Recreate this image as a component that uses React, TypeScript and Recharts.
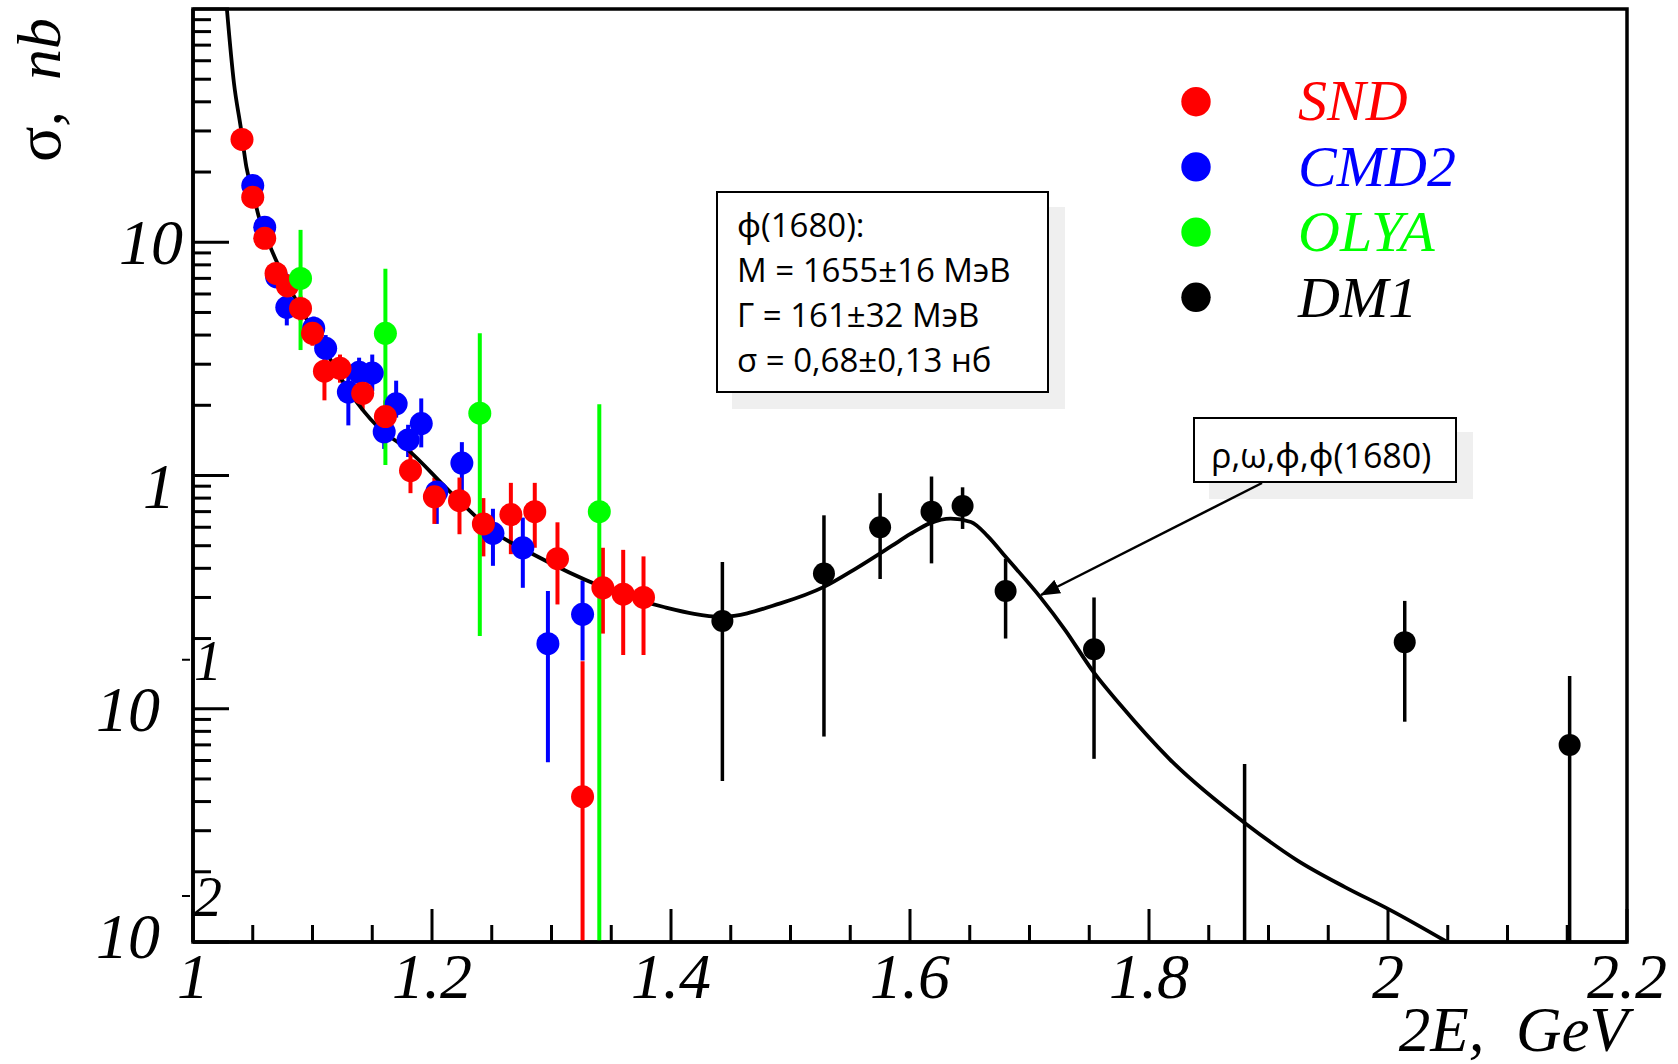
import React from 'react';
import {
  ComposedChart,
  Scatter,
  Line,
  XAxis,
  YAxis,
  ErrorBar,
  ReferenceArea,
} from 'recharts';

// each row: [2E (GeV), sigma (nb), lower end of error bar, upper end of error bar]
const sndRows: number[][] = [
  [1.041, 27.6, 25, 30.5],
  [1.05, 15.6, 14.3, 17],
  [1.06, 10.4, 9.5, 11.4],
  [1.0695, 7.35, 6.6, 8.1],
  [1.079, 6.5, 5.8, 7.3],
  [1.09, 5.2, 4.6, 5.9],
  [1.1, 4.07, 3.6, 4.6],
  [1.11, 2.8, 2.1, 3.2],
  [1.123, 2.88, 2.5, 3.3],
  [1.142, 2.25, 1.9, 2.6],
  [1.161, 1.79, 1.4, 2.1],
  [1.182, 1.05, 0.84, 1.28],
  [1.202, 0.81, 0.62, 0.98],
  [1.223, 0.78, 0.56, 0.98],
  [1.243, 0.62, 0.45, 0.8],
  [1.266, 0.68, 0.46, 0.93],
  [1.286, 0.7, 0.49, 0.93],
  [1.305, 0.44, 0.28, 0.63],
  [1.326, 0.042, 0.01, 0.16],
  [1.343, 0.33, 0.21, 0.49],
  [1.36, 0.31, 0.17, 0.48],
  [1.377, 0.3, 0.17, 0.45],
];

const cmd2Rows: number[][] = [
  [1.05, 17.5, 16, 19],
  [1.06, 11.6, 10.6, 12.7],
  [1.07, 7.1, 6.5, 7.8],
  [1.0785, 5.26, 4.4, 6.0],
  [1.101, 4.28, 3.8, 4.8],
  [1.111, 3.51, 3.1, 4.0],
  [1.13, 2.28, 1.64, 2.73],
  [1.139, 2.77, 2.4, 3.2],
  [1.15, 2.75, 2.3, 3.3],
  [1.16, 1.54, 1.3, 1.85],
  [1.17, 2.03, 1.77, 2.55],
  [1.18, 1.42, 1.2, 1.65],
  [1.191, 1.67, 1.32, 2.14],
  [1.204, 0.85, 0.62, 0.97],
  [1.225, 1.13, 0.84, 1.39],
  [1.251, 0.565, 0.41, 0.72],
  [1.276, 0.49, 0.33, 0.66],
  [1.297, 0.19, 0.059, 0.32],
  [1.326, 0.254, 0.161, 0.355],
];

const olyaRows: number[][] = [
  [1.09, 7.0, 3.45, 11.3],
  [1.161, 4.07, 1.11, 7.7],
  [1.24, 1.85, 0.205, 4.07],
  [1.34, 0.7, 0.01, 2.02],
];

// the 1.88 GeV point lies below the frame, only its bar shows
const dm1Rows: number[][] = [
  [1.443, 0.238, 0.049, 0.426],
  [1.528, 0.38, 0.076, 0.675],
  [1.575, 0.6, 0.36, 0.84],
  [1.618, 0.7, 0.42, 0.99],
  [1.644, 0.74, 0.59, 0.89],
  [1.68, 0.32, 0.2, 0.44],
  [1.754, 0.18, 0.061, 0.3],
  [1.88, 0.002, 0.01, 0.058],
  [2.014, 0.193, 0.088, 0.29],
  [2.152, 0.07, 0.01, 0.138],
];

// fit curve (rho, omega, phi, phi(1680))
const fitX = [
  1.028, 1.0343, 1.04, 1.0447, 1.05, 1.0552, 1.06, 1.0672, 1.079, 1.094, 1.109,
  1.13, 1.155, 1.179, 1.215, 1.251, 1.287, 1.34, 1.394, 1.443, 1.4915, 1.528,
  1.555, 1.585, 1.6, 1.617, 1.634, 1.651, 1.665, 1.68, 1.709, 1.73, 1.753,
  1.776, 1.817, 1.8815, 1.924, 1.964, 2.002, 2.048, 2.06,
];
const fitY = [
  105, 48, 31, 21, 16.5, 12.8, 11, 8.9, 6.65, 4.78, 3.56, 2.32, 1.61, 1.3,
  0.853, 0.577, 0.453, 0.337, 0.273, 0.248, 0.283, 0.333, 0.4, 0.5, 0.56,
  0.625, 0.653, 0.632, 0.55, 0.448, 0.301, 0.217, 0.145, 0.104, 0.061, 0.032,
  0.0224, 0.0172, 0.0137, 0.0101, 0.0093,
];

const xTicks = Array.from({ length: 25 }, (_, i) => Number((1 + i * 0.05).toFixed(2)));
const yDecades = [0.01, 0.1, 1, 10];
const yMultipliers = [1, 2, 3, 4, 5, 6, 7, 8, 9];
const yTicks = [
  ...yDecades.flatMap((d) => yMultipliers.map((m) => Number((d * m).toPrecision(3)))),
  100,
];

const legendItems = [
  { name: 'SND', color: '#ff0000' },
  { name: 'CMD2', color: '#0000ff' },
  { name: 'OLYA', color: '#00ff00' },
  { name: 'DM1', color: '#000000' },
];

const boxLines = ['ϕ(1680):', 'M = 1655±16 МэВ', 'Γ = 161±32 МэВ', 'σ = 0,68±0,13 нб'];

const toPoints = (rows: number[][]) =>
  rows.map(([x, y, lo, hi]) => ({ x, y, err: [y - lo, hi - y] }));

const sndData = toPoints(sndRows);
const cmd2Data = toPoints(cmd2Rows);
const olyaData = toPoints(olyaRows);
const dm1Data = toPoints(dm1Rows);
const fitData = fitX.map((x, i) => ({ x, y: fitY[i] }));

const SERIF = "'Liberation Serif', 'DejaVu Serif', serif";
const SANS = "'Open Sans', 'Noto Sans', sans-serif";

function dot(color: string, r: number) {
  return (p: any) => <circle cx={p.cx} cy={p.cy} r={r} fill={color} />;
}

function YTick(props: any) {
  const { x, y, payload } = props;
  const v = payload.value as number;
  const lg = Math.log10(v);
  const major = Math.abs(lg - Math.round(lg)) < 1e-6;
  const len = major ? 36 : 18;
  let label: React.ReactNode = null;
  const style = { fontFamily: SERIF, fontStyle: 'italic' as const, fontSize: 64 };
  if (Math.abs(v - 10) < 1e-9) {
    label = (
      <text x={x - 10} y={y + 22} textAnchor="end" style={style}>10</text>
    );
  } else if (Math.abs(v - 1) < 1e-9) {
    label = (
      <text x={x - 18} y={y + 32} textAnchor="end" style={style}>1</text>
    );
  } else if (Math.abs(v - 0.1) < 1e-9 || Math.abs(v - 0.01) < 1e-9) {
    const exp = Math.abs(v - 0.1) < 1e-9 ? '1' : '2';
    const dy = exp === '1' ? 22 : 16;
    const sy = exp === '1' ? 0 : 3;
    label = (
      <g>
        <text x={x - 33} y={y + dy} textAnchor="end" style={style}>10</text>
        <line x1={x - 11} x2={x - 3} y1={y - 49 + sy} y2={y - 49 + sy} stroke="#000" strokeWidth={2} />
        <text x={x + 1} y={y - 29 + sy} style={{ ...style, fontSize: 56 }}>{exp}</text>
      </g>
    );
  }
  return (
    <g>
      <line x1={x} x2={x + len} y1={y} y2={y} stroke="#000" strokeWidth={3} />
      {label}
    </g>
  );
}

function XTick(props: any) {
  const { x, y, payload } = props;
  const v = payload.value as number;
  const major = Math.abs(v * 5 - Math.round(v * 5)) < 1e-6;
  const len = major ? 33 : 17;
  return (
    <g>
      <line x1={x} x2={x} y1={y} y2={y - len} stroke="#000" strokeWidth={3} />
      {major && (
        <text
          x={x}
          y={y + 56}
          textAnchor="middle"
          style={{ fontFamily: SERIF, fontStyle: 'italic', fontSize: 64 }}
        >
          {String(v)}
        </text>
      )}
    </g>
  );
}

function Overlay() {
  return (
    <svg
      width={1678}
      height={1064}
      style={{ position: 'absolute', left: 0, top: 0, pointerEvents: 'none' }}
    >
      <defs>
        <marker id="arrowHead" markerWidth="8" markerHeight="6" refX="7.5" refY="3" orient="auto" markerUnits="strokeWidth">
          <path d="M0,0 L8,3 L0,6 Z" fill="#000" />
        </marker>
      </defs>

      {/* axis titles */}
      <text
        transform="translate(60,18) rotate(-90)"
        textAnchor="end"
        style={{ fontFamily: SERIF, fontSize: 62, whiteSpace: 'pre' }}
      >
        <tspan style={{ fontSize: 66 }}>σ</tspan>
        <tspan style={{ fontStyle: 'italic' }}>,  nb</tspan>
      </text>
      <text
        x={1628}
        y={1051}
        textAnchor="end"
        style={{ fontFamily: SERIF, fontStyle: 'italic', fontSize: 63, whiteSpace: 'pre' }}
      >
        2E,  GeV
      </text>

      {/* legend */}
      {legendItems.map((item, i) => (
        <g key={item.name}>
          <circle cx={1196} cy={101.7 + i * 65.2} r={14.7} fill={item.color} />
          <text
            x={1298}
            y={120 + i * 65.6}
            fill={item.color}
            style={{ fontFamily: SERIF, fontStyle: 'italic', fontSize: 58 }}
          >
            {item.name}
          </text>
        </g>
      ))}

      {/* parameter box */}
      <rect x={732} y={207} width={333} height={202} fill="#efefef" />
      <rect x={717} y={192} width={331} height={200} fill="#fff" stroke="#000" strokeWidth={2} />
      {boxLines.map((line, i) => (
        <text
          key={line}
          x={737}
          y={237 + i * 45}
          style={{ fontFamily: SANS, fontSize: 33 }}
          fill="#000"
        >
          {line}
        </text>
      ))}

      {/* fit label box with arrow */}
      <rect x={1209} y={432} width={264} height={67} fill="#efefef" />
      <line x1={1262} y1={483} x2={1041} y2={595} stroke="#000" strokeWidth={2.5} markerEnd="url(#arrowHead)" />
      <rect x={1194} y={418} width={262} height={64} fill="#fff" stroke="#000" strokeWidth={2} />
      <text x={1211} y={468} style={{ fontFamily: SANS, fontSize: 34 }} fill="#000">
        ρ,ω,ϕ,ϕ(1680)
      </text>
    </svg>
  );
}

export default function App() {
  return (
    <div
      style={{
        position: 'absolute',
        left: 0,
        top: 0,
        width: 1678,
        height: 1064,
        background: '#fff',
        overflow: 'hidden',
      }}
    >
      <ComposedChart
        width={1678}
        height={1064}
        margin={{ top: 9, right: 51, bottom: 121, left: 192 }}
      >
        <XAxis
          dataKey="x"
          type="number"
          domain={[1, 2.2]}
          allowDataOverflow
          ticks={xTicks}
          interval={0}
          height={1}
          tickSize={0}
          tickMargin={0}
          tick={<XTick />}
          axisLine={{ stroke: '#000', strokeWidth: 3.5 }}
          tickLine={false}
        />
        <YAxis
          type="number"
          scale="log"
          domain={[0.01, 100]}
          allowDataOverflow
          ticks={yTicks}
          interval={0}
          width={1}
          tickSize={0}
          tickMargin={0}
          tick={<YTick />}
          axisLine={{ stroke: '#000', strokeWidth: 3.5 }}
          tickLine={false}
        />
        <Scatter data={cmd2Data} dataKey="y" shape={dot('#0000ff', 11.5)} isAnimationActive={false}>
          <ErrorBar dataKey="err" direction="y" width={0} stroke="#0000ff" strokeWidth={4} />
        </Scatter>
        <Scatter data={sndData} dataKey="y" shape={dot('#ff0000', 11.5)} isAnimationActive={false}>
          <ErrorBar dataKey="err" direction="y" width={0} stroke="#ff0000" strokeWidth={4} />
        </Scatter>
        <Scatter data={olyaData} dataKey="y" shape={dot('#00ff00', 11.5)} isAnimationActive={false}>
          <ErrorBar dataKey="err" direction="y" width={0} stroke="#00ff00" strokeWidth={4} />
        </Scatter>
        <Scatter data={dm1Data} dataKey="y" shape={dot('#000000', 11)} isAnimationActive={false}>
          <ErrorBar dataKey="err" direction="y" width={0} stroke="#000000" strokeWidth={3.5} />
        </Scatter>
        <Line
          data={fitData}
          dataKey="y"
          type="monotone"
          dot={false}
          activeDot={false}
          stroke="#000"
          strokeWidth={3.8}
          isAnimationActive={false}
        />
        <ReferenceArea
          x1={1}
          x2={2.2}
          y1={0.01}
          y2={100}
          fill="none"
          fillOpacity={0}
          stroke="#000"
          strokeWidth={3.5}
          ifOverflow="visible"
        />
      </ComposedChart>
      <Overlay />
    </div>
  );
}
